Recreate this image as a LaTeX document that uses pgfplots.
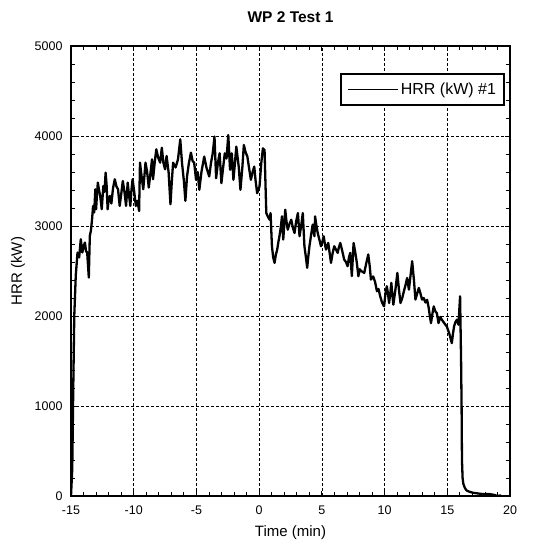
\documentclass[border=0pt]{standalone}
\usepackage{pgfplots}
\pgfplotsset{compat=1.18}
\usepackage{fontspec}
\setmainfont{Liberation Sans}
\begin{document}
\begin{tikzpicture}
\begin{axis}[
  width=439pt, height=450pt, scale only axis,
  xmin=-15, xmax=20, ymin=0, ymax=5000,
  xtick={-15,-10,...,20}, ytick={0,1000,...,5000},
  minor x tick num=4, minor y tick num=4,
  xtick pos=both, ytick pos=both,
  tick align=inside,
  major tick length=5pt, minor tick length=4pt,
  every tick/.style={black, line width=0.8pt},
  grid=major,
  major grid style={black, line width=0.7pt, dash pattern=on 2.5pt off 2.5pt},
  axis line style={black, line width=1.4pt},
  scaled ticks=false,
  /pgf/number format/.cd, 1000 sep={}, assume math mode=true,
  /pgfplots/.cd,
  tick label style={font=\fontsize{12.5}{13}\selectfont},
  xticklabel style={yshift=-6pt},
  yticklabel style={xshift=-5pt},
  title={\bfseries WP 2 Test 1},
  title style={at={(axis description cs:0.5,1)}, anchor=center, yshift=23pt, font=\fontsize{15.5}{16}\selectfont},
  xlabel={Time (min)},
  xlabel style={at={(axis description cs:0.5,0)}, anchor=center, yshift=-37pt, font=\fontsize{15}{16}\selectfont},
  ylabel={HRR (kW)},
  ylabel style={at={(axis description cs:-0.1207,0.5)}, anchor=center, font=\fontsize{15}{16}\selectfont},
  legend style={at={(rel axis cs:0.9886,0.94)}, anchor=north east, draw=black, line width=2pt,
    font=\fontsize{16}{17}\selectfont, inner xsep=6pt, inner ysep=7pt, fill=white},
  legend cell align=left,
  legend image code/.code={\draw[black, line width=1.9pt] (0pt,0pt) -- (50pt,0pt);},
]
\addplot[black, line width=2.3pt, line join=round] coordinates {
(-15.0,0) (-14.9,300) (-14.82,1200) (-14.74,2000) (-14.62,2450) (-14.48,2705)
(-14.35,2650) (-14.22,2853) (-14.1,2705) (-13.98,2780) (-13.89,2816) (-13.8,2720)
(-13.71,2705) (-13.58,2427) (-13.5,2890) (-13.41,2950) (-13.32,3075) (-13.24,3223)
(-13.15,3150) (-13.06,3408) (-13.0,3186) (-12.93,3350) (-12.86,3482) (-12.77,3400)
(-12.67,3334) (-12.55,3186) (-12.42,3445) (-12.33,3380) (-12.24,3593) (-12.16,3450)
(-12.08,3186) (-11.99,3300) (-11.9,3334) (-11.78,3250) (-11.65,3420) (-11.51,3519)
(-11.38,3440) (-11.25,3408) (-11.12,3223) (-11.0,3350) (-10.87,3500) (-10.74,3380)
(-10.61,3223) (-10.48,3482) (-10.38,3350) (-10.27,3223) (-10.18,3400) (-10.09,3519)
(-9.96,3380) (-9.83,3223) (-9.7,3280) (-9.57,3167) (-9.5,3704) (-9.37,3550)
(-9.24,3408) (-9.15,3550) (-9.06,3704) (-8.93,3600) (-8.8,3427) (-8.67,3580)
(-8.54,3741) (-8.46,3519) (-8.33,3700) (-8.2,3852) (-8.05,3760) (-7.89,3704)
(-7.76,3870) (-7.63,3700) (-7.5,3630) (-7.38,3778) (-7.22,3600) (-7.07,3241)
(-6.96,3500) (-6.86,3704) (-6.66,3650) (-6.47,3741) (-6.38,3850) (-6.29,3963)
(-6.15,3700) (-6.0,3500) (-5.88,3279) (-5.75,3550) (-5.6,3700) (-5.44,3815)
(-5.3,3720) (-5.18,3704) (-5.03,3513) (-4.9,3600) (-4.77,3402) (-4.6,3600)
(-4.38,3771) (-4.2,3650) (-3.98,3550) (-3.84,3700) (-3.70,3808) (-3.56,3993)
(-3.43,3531) (-3.29,3700) (-3.15,3808) (-3.01,3476) (-2.87,3650) (-2.74,3808)
(-2.60,3750) (-2.46,4011) (-2.32,3624) (-2.18,3808) (-2.05,3513) (-1.93,3700)
(-1.82,3882) (-1.63,3660) (-1.49,3402) (-1.34,3650) (-1.22,3900) (-1.08,3820)
(-0.94,3771) (-0.81,3650) (-0.66,3513) (-0.52,3600) (-0.39,3660) (-0.28,3500)
(-0.16,3365) (0.03,3439) (0.17,3700) (0.30,3863) (0.43,3845) (0.57,3144)
(0.71,3100) (0.83,3070) (0.91,3144) (1.02,2775) (1.12,2650) (1.23,2590)
(1.33,2680) (1.44,2738) (1.53,2820) (1.62,2886) (1.72,2980) (1.82,3107)
(1.92,2849) (2.00,3000) (2.08,3181) (2.18,3050) (2.28,2959) (2.41,3020)
(2.56,3070) (2.69,2980) (2.82,2922) (2.95,3050) (3.09,3144) (3.22,2886)
(3.35,3000) (3.48,3144) (3.61,2775) (3.73,2650) (3.83,2535) (3.91,2650)
(4.01,2775) (4.14,2900) (4.27,3015) (4.41,2886) (4.46,3107) (4.57,3000)
(4.67,2922) (4.80,2850) (4.93,2775) (5.05,2830) (5.15,2886) (5.24,2800)
(5.33,2738) (5.42,2780) (5.51,2812) (5.62,2700) (5.73,2590) (5.86,2700)
(5.99,2775) (6.12,2740) (6.26,2701) (6.35,2760) (6.47,2812) (6.63,2720)
(6.78,2627) (6.92,2600) (7.05,2553) (7.16,2650) (7.26,2701) (7.39,2443)
(7.53,2812) (7.67,2700) (7.79,2590) (7.91,2442) (8.02,2520) (8.13,2500)
(8.38,2479) (8.53,2580) (8.70,2684) (8.82,2550) (8.91,2405) (9.09,2440)
(9.24,2380) (9.39,2275) (9.52,2300) (9.65,2219) (9.80,2150) (9.96,2107)
(10.07,2250) (10.18,2330) (10.27,2250) (10.36,2144) (10.46,2260) (10.54,2368)
(10.61,2250) (10.70,2126) (10.87,2300) (11.02,2479) (11.14,2300) (11.27,2144)
(11.41,2200) (11.54,2275) (11.68,2350) (11.80,2423) (11.94,2293) (12.07,2450)
(12.20,2609) (12.34,2400) (12.46,2182) (12.60,2250) (12.73,2312) (12.86,2250)
(12.99,2182) (13.12,2200) (13.26,2150) (13.39,2180) (13.52,2089) (13.61,2000)
(13.70,1921) (13.82,2030) (13.92,2107) (14.05,2050) (14.17,2033) (14.30,1921)
(14.44,1990) (14.57,1958) (14.76,1920) (14.96,1884) (15.17,1800) (15.36,1698)
(15.45,1800) (15.54,1884) (15.64,1930) (15.76,1958) (15.89,1903) (16.02,2219)
(16.10,1500) (16.14,1000) (16.17,400) (16.22,200) (16.28,136) (16.40,90)
(16.54,61) (16.80,45) (17.10,35) (17.31,31) (17.60,25) (18.00,20) (18.30,22)
(18.60,16) (18.80,10) (19.00,0) (19.20,5) (19.30,3)
};
\addlegendentry{HRR (kW) \#1}
\coordinate (BL) at (rel axis cs:0,0);
\coordinate (TR) at (rel axis cs:1,1);
\end{axis}
\pgfresetboundingbox
\path[use as bounding box] ([shift={(-71pt,-48pt)}]BL) rectangle ([shift={(24pt,46pt)}]TR);
\end{tikzpicture}
\end{document}
